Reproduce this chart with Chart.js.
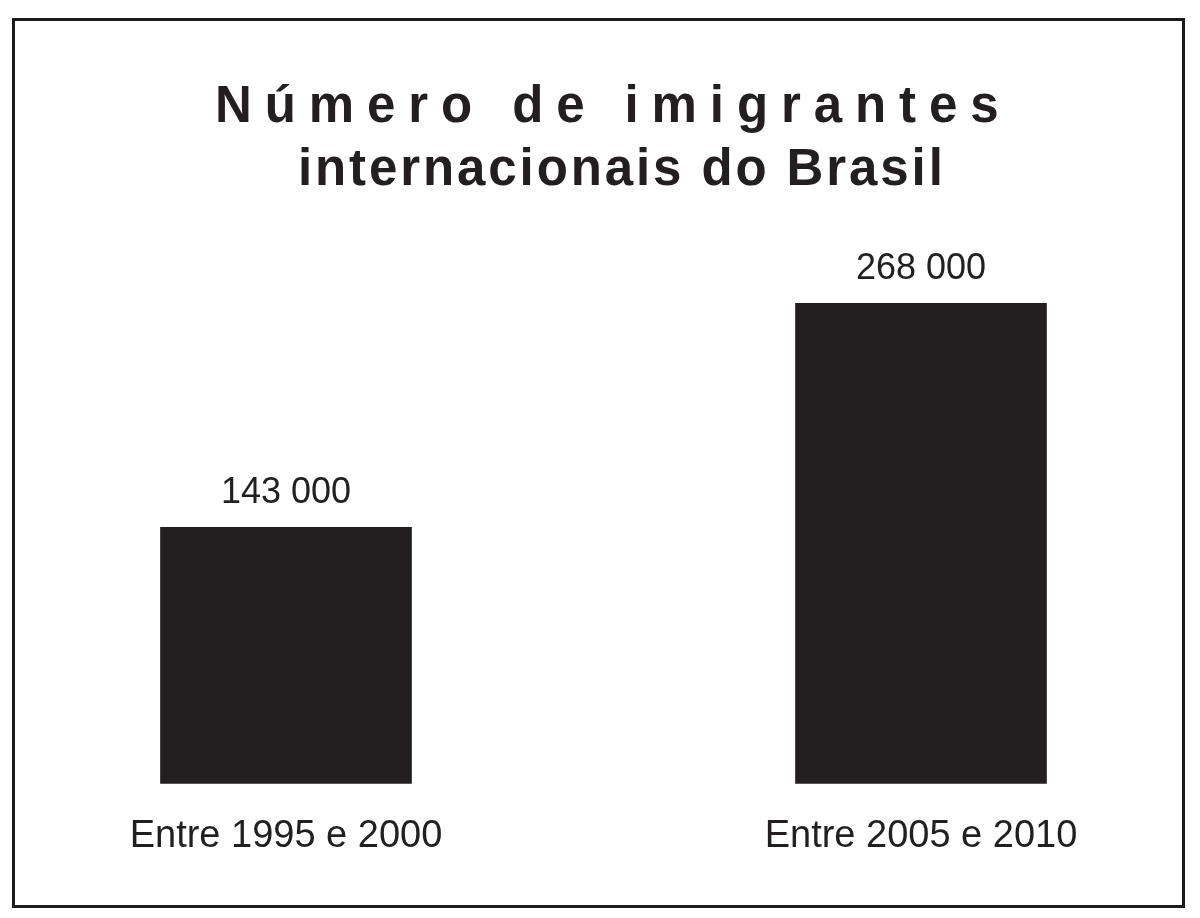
<!DOCTYPE html>
<html lang="pt-BR">
<head>
<meta charset="utf-8">
<title>Número de imigrantes internacionais do Brasil</title>
<script src="https://cdn.jsdelivr.net/npm/chart.js@4/dist/chart.umd.min.js"></script>
<style>
    html, body { margin: 0; padding: 0; background: #fff; }
    body { width: 1200px; height: 918px; position: relative; overflow: hidden; }
    #frame {
        position: absolute; left: 12px; top: 18px; width: 1173px; height: 890px;
        box-sizing: border-box; border: 3px solid #1c1a1b;
    }
    .title {
        position: absolute; white-space: nowrap; color: #231f20;
        font-family: "Liberation Sans", Arial, sans-serif; font-weight: bold;
        font-size: 51px; line-height: 1;
    }
    #title1 { left: 215px; top: 79px; letter-spacing: 12.9px; }
    #title2 { left: 298px; top: 142px; letter-spacing: 2.9px; }
    #canva { position: absolute; left: 0; top: 0; }
</style>
</head>
<body>
<div id="frame"></div>
<div class="title" id="title1">Número de imigrantes</div>
<div class="title" id="title2">internacionais do Brasil</div>
<canvas id="canva" width="1200" height="918"></canvas>
<script>
// chart data
const periods = ['Entre 1995 e 2000', 'Entre 2005 e 2010'];
const immigrants = [143000, 268000];
const yMax = 300000;

const inkColor = '#231f20';

// "143000" -> "143 000"
function formatNumber(n) {
    return String(n).replace(/\B(?=(\d{3})+(?!\d))/g, ' ');
}

// draws the value above each bar
const valueLabels = {
    id: 'valueLabels',
    afterDatasetsDraw(chart) {
        const ctx = chart.ctx;
        const meta = chart.getDatasetMeta(0);
        ctx.save();
        ctx.fillStyle = inkColor;
        ctx.font = '36px "Liberation Sans", Arial, sans-serif';
        ctx.textAlign = 'center';
        ctx.textBaseline = 'alphabetic';
        meta.data.forEach((bar, i) => {
            ctx.fillText(formatNumber(immigrants[i]), bar.x, bar.y - 24);
        });
        ctx.restore();
    }
};

const ctx = document.getElementById('canva').getContext('2d');
new Chart(ctx, {
    type: 'bar',
    data: {
        labels: periods,
        datasets: [{
            data: immigrants,
            backgroundColor: inkColor,
            borderWidth: 0,
            barThickness: 251,
            clip: false
        }]
    },
    options: {
        responsive: false,
        animation: false,
        layout: {
            padding: { left: 286, right: 279, top: 246, bottom: 29 }
        },
        plugins: {
            legend: { display: false },
            tooltip: { enabled: false },
            title: { display: false }
        },
        scales: {
            x: {
                offset: false,
                grid: { display: false, drawTicks: false },
                border: { display: false },
                ticks: {
                    color: inkColor,
                    padding: 30,
                    maxRotation: 0,
                    autoSkip: false,
                    font: { family: '"Liberation Sans", Arial, sans-serif', size: 38 }
                }
            },
            y: {
                display: false,
                min: 0,
                max: yMax
            }
        }
    },
    plugins: [valueLabels]
});
</script>
</body>
</html>
